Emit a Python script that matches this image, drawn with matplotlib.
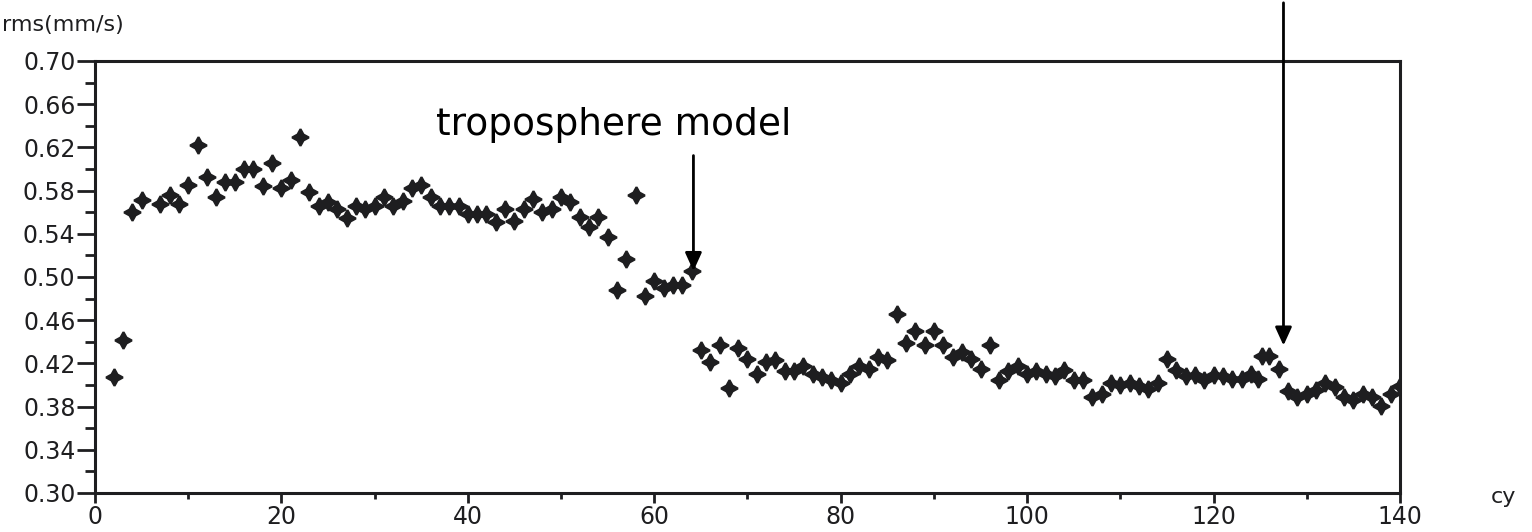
import numpy as np
import matplotlib.pyplot as plt
from matplotlib.ticker import MultipleLocator, FormatStrFormatter

# rms par cycle
cycles = [2, 3, 4, 5, 7, 8, 9, 10, 11, 12, 13, 14, 15, 16, 17, 18, 19, 20,
          21, 22, 23, 24, 25, 26, 27, 28, 29, 30, 31, 32, 33, 34, 35, 36, 37,
          38, 39, 40, 41, 42, 43, 44, 45, 46, 47, 48, 49, 50, 51, 52, 53, 54,
          55, 56, 57, 58, 59, 60, 61, 62, 63, 64, 65, 66, 67, 68, 69, 70, 71,
          72, 73, 74, 75, 76, 77, 78, 79, 80, 81, 82, 83, 84, 85, 86, 87, 88,
          89, 90, 91, 92, 93, 94, 95, 96, 97, 98, 99, 100, 101, 102, 103, 104,
          105, 106, 107, 108, 109, 110, 111, 112, 113, 114, 115, 116, 117, 118,
          119, 120, 121, 122, 123, 124, 124.8, 125.2, 126, 127, 128, 129, 130,
          131, 132, 133, 134, 135, 136, 137, 138, 139, 140]
rms = [0.407, 0.442, 0.560, 0.571, 0.568, 0.576, 0.568, 0.585, 0.622, 0.593,
       0.574, 0.588, 0.588, 0.600, 0.600, 0.584, 0.606, 0.582, 0.590, 0.630,
       0.579, 0.566, 0.569, 0.563, 0.555, 0.566, 0.563, 0.566, 0.574, 0.566,
       0.570, 0.582, 0.585, 0.574, 0.566, 0.566, 0.566, 0.558, 0.558, 0.558,
       0.551, 0.563, 0.552, 0.563, 0.572, 0.560, 0.563, 0.574, 0.569, 0.556,
       0.546, 0.556, 0.537, 0.488, 0.517, 0.576, 0.482, 0.496, 0.490, 0.493,
       0.493, 0.506, 0.432, 0.421, 0.437, 0.397, 0.434, 0.424, 0.410, 0.421,
       0.423, 0.413, 0.413, 0.418, 0.410, 0.407, 0.405, 0.402, 0.410, 0.418,
       0.415, 0.426, 0.423, 0.466, 0.439, 0.450, 0.437, 0.450, 0.437, 0.426,
       0.431, 0.424, 0.415, 0.437, 0.405, 0.413, 0.418, 0.410, 0.413, 0.410,
       0.408, 0.414, 0.405, 0.405, 0.389, 0.392, 0.402, 0.400, 0.402, 0.399,
       0.396, 0.402, 0.424, 0.414, 0.408, 0.409, 0.405, 0.409, 0.408, 0.406,
       0.406, 0.410, 0.406, 0.427, 0.427, 0.415, 0.394, 0.389, 0.392, 0.395,
       0.402, 0.398, 0.389, 0.386, 0.392, 0.389, 0.381, 0.392, 0.399]

x_ticks = [0, 20, 40, 60, 80, 100, 120, 140]
y_ticks = [0.30, 0.34, 0.38, 0.42, 0.46, 0.50, 0.54, 0.58, 0.62, 0.66, 0.70]

couleur = '#1e1e20'

fig = plt.figure(figsize=(15.32, 5.32), dpi=100)
ax = fig.add_axes([95/1532, 39/532, 1305/1532, 432/532])

ax.plot(cycles, rms, linestyle='none', marker=(4, 1, 0), markersize=12,
        color=couleur, markeredgewidth=1.6)

ax.set_xlim(0, 140)
ax.set_ylim(0.30, 0.70)
ax.set_xticks(x_ticks)
ax.set_yticks(y_ticks)
ax.xaxis.set_minor_locator(MultipleLocator(10))
ax.yaxis.set_minor_locator(MultipleLocator(0.02))
ax.yaxis.set_major_formatter(FormatStrFormatter('%.2f'))

for s in ax.spines.values():
    s.set_linewidth(2.2)
    s.set_color(couleur)

ax.tick_params(axis='both', which='major', direction='out', width=2,
               labelsize=17, colors=couleur)
ax.tick_params(axis='y', which='major', length=13, pad=1)
ax.tick_params(axis='y', which='minor', length=7, width=2, colors=couleur)
ax.tick_params(axis='x', which='major', length=7, pad=2)
ax.tick_params(axis='x', which='minor', length=4, width=2, colors=couleur)

# textes d'axes
fig.text(2/1532, 1 - 25/532, 'rms(mm/s)', fontsize=16, color=couleur,
         ha='left', va='center')
fig.text(1503/1532, 1 - 497/532, 'cy', fontsize=16, color=couleur,
         ha='center', va='center')

# annotation troposphere
ax.annotate('', xy=(64.2, 0.503), xytext=(64.2, 0.615),
            arrowprops=dict(arrowstyle='-|>,head_length=1.1,head_width=0.5',
                            color='black', lw=2))
ax.text(55.6, 0.641, 'troposphere model', fontsize=27, ha='center',
        va='center', color='black')

# fleche venant du haut
ax.annotate('', xy=(127.5, 0.434), xycoords='data',
            xytext=(127.5, 0.70 + 61 / 1080.75), textcoords='data',
            arrowprops=dict(arrowstyle='-|>,head_length=1.1,head_width=0.5',
                            color='black', lw=2), annotation_clip=False)

fig.savefig('out.png', dpi=100)
